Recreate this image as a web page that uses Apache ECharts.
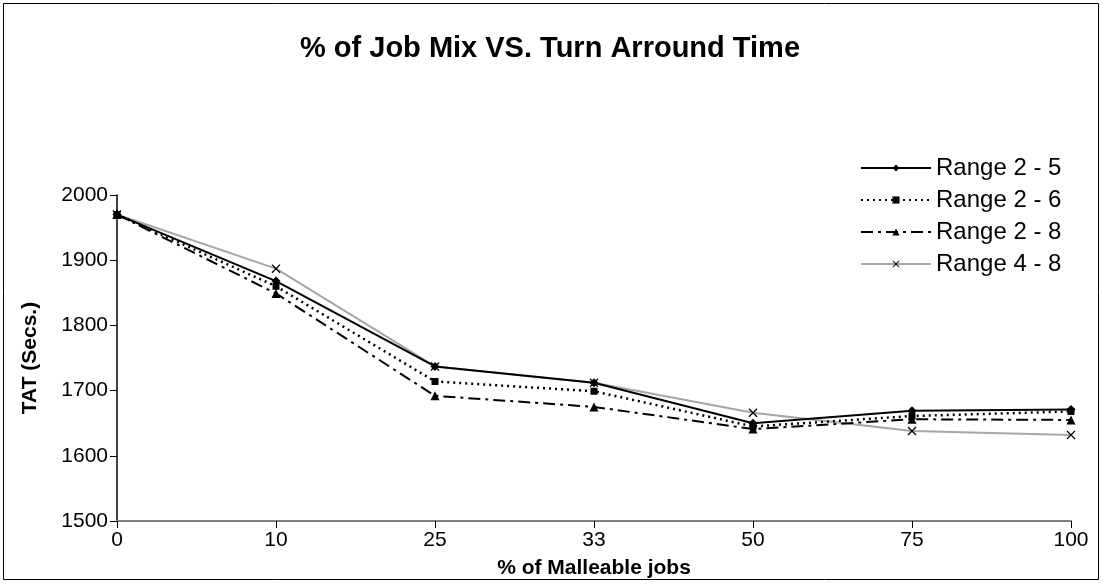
<!DOCTYPE html>
<html><head><meta charset="utf-8">
<script src="https://cdn.jsdelivr.net/npm/echarts@6/dist/echarts.min.js"></script>
<style>html,body{margin:0;padding:0;background:#fff}#c{width:1103px;height:584px}</style>
</head><body><div id="c"></div>
<script>
const categories = ['0','10','25','33','50','75','100'];
const range25 = [1970, 1868, 1737, 1712, 1650, 1669, 1671];
const range26 = [1970, 1860, 1714, 1699, 1645, 1661, 1668];
const range28 = [1970, 1849, 1692, 1675, 1641, 1656, 1655];
const range48 = [1970, 1887, 1737, 1712, 1666, 1638, 1632];
const seriesNames = ['Range 2 - 5','Range 2 - 6','Range 2 - 8','Range 4 - 8'];

const xMark = 'path://M0,1 L1,0 L5,4 L9,0 L10,1 L6,5 L10,9 L9,10 L5,6 L1,10 L0,9 L4,5 Z';
const font = 'Liberation Sans, Arial, sans-serif';
const chart = echarts.init(document.getElementById('c'));
function mk(name, data, symbol, size, color, type, width){
  return {name, type:'line', data, symbol, symbolSize:size, showAllSymbol:true,
    lineStyle:{color, width, type}, itemStyle:{color: '#000'}, emphasis:{disabled:true}, z: name==='Range 4 - 8'?1:2};
}
chart.setOption({
  animation:false,
  backgroundColor:'#fff',
  graphic:[{type:'rect', shape:{x:3.5,y:3.5,width:1095,height:576}, style:{fill:null, stroke:'#000', lineWidth:1}, silent:true, z:-1}],
  title:{text:'% of Job Mix VS. Turn Arround Time', left:545, textAlign:'center', top:29,
    textStyle:{fontFamily:font, fontSize:29, fontWeight:'bold', color:'#000'}},
  legend:{orient:'vertical', left:855, top:151, itemWidth:70, itemHeight:9, itemGap:8,
    textStyle:{fontFamily:font, fontSize:24, color:'#000'}, data:seriesNames},
  grid:{left:117, right:32, top:195, bottom:60},
  xAxis:{type:'category', data:categories, boundaryGap:false,
    name:'% of Malleable jobs', nameLocation:'middle', nameGap:37,
    nameTextStyle:{fontFamily:font, fontSize:21, fontWeight:'bold', color:'#000'},
    axisLine:{lineStyle:{color:'#808080', width:2}},
    axisTick:{show:true, length:7, alignWithLabel:true, lineStyle:{color:'#000'}},
    axisLabel:{fontFamily:font, fontSize:21, color:'#000', margin:9},
    splitLine:{show:false}},
  yAxis:{type:'value', min:1500, max:2000, interval:100,
    name:'TAT (Secs.)', nameLocation:'middle', nameGap:76, nameRotate:90,
    nameTextStyle:{fontFamily:font, fontSize:21, fontWeight:'bold', color:'#000'},
    axisLine:{show:true, lineStyle:{color:'#000', width:1.5}},
    axisTick:{show:true, length:7, lineStyle:{color:'#000'}},
    axisLabel:{fontFamily:font, fontSize:21, color:'#000', margin:9, formatter:function(v){return String(v);}},
    splitLine:{show:false}},
  series:[
    mk(seriesNames[0], range25, 'diamond', 9, '#000', 'solid', 2),
    mk(seriesNames[1], range26, 'rect', 7, '#000', [2,4], 2.5),
    mk(seriesNames[2], range28, 'triangle', 9, '#000', [12,5,3,5], 2),
    mk(seriesNames[3], range48, xMark, 9, '#a6a6a6', 'solid', 2)
  ]
});
</script></body></html>
